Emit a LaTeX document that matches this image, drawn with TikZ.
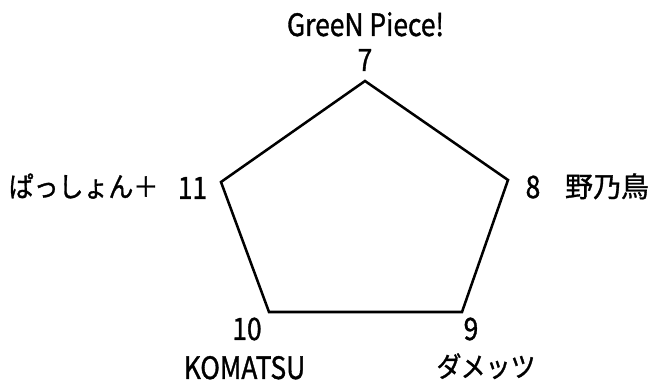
\documentclass[tikz,border=0pt]{standalone}
\usepackage{fontspec}
\setmainfont{Noto Sans CJK JP}[FakeBold=1.2]
\newcommand{\latn}[1]{\scalebox{0.9}[1.05]{\fontsize{22}{22}\selectfont #1}}
\newcommand{\kana}[1]{\scalebox{0.89}[1]{#1}}
\begin{document}
\begin{tikzpicture}[x=0.75pt,y=-0.75pt,
  lbl/.style={inner sep=0pt,anchor=base,font=\fontsize{21}{21}\selectfont},
  edge/.style={line width=1.9pt,line join=miter}]
\useasboundingbox (0,0) rectangle (651,381);
\coordinate (v7) at (365,81);
\coordinate (v8) at (508,180);
\coordinate (v9) at (462,312);
\coordinate (v10) at (269,312);
\coordinate (v11) at (221,182);
\draw[edge] (v7) -- (v8) -- (v9) -- (v10) -- (v11) -- cycle;
\node[lbl] (t7) at (365.5,36) {\latn{GreeN Piece!}};
\node[lbl] (n7) at (365,71) {\latn{7}};
\node[lbl] (n11) at (192.5,199) {\latn{11}};
\node[lbl] (t11) at (83.5,197) {\kana{ぱっしょん＋}};
\node[lbl] (n8) at (533,198) {\latn{8}};
\node[lbl] (t8) at (607,197) {野乃鳥};
\node[lbl] (n10) at (247,340) {\latn{10}};
\node[lbl] (n9) at (471,340) {\latn{9}};
\node[lbl] (t10) at (244.5,379) {\latn{KOMATSU}};
\node[lbl] (t9) at (486,377) {\kana{ダメッツ}};
\end{tikzpicture}
\end{document}
